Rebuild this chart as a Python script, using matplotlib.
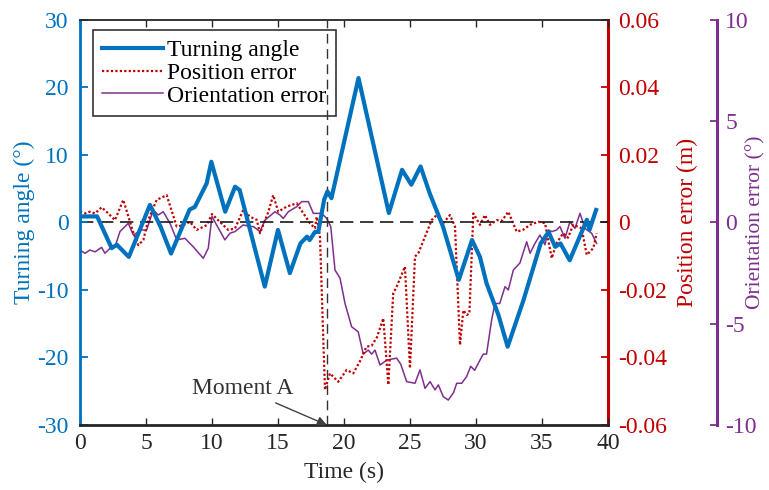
import matplotlib
matplotlib.use("Agg")
import matplotlib.pyplot as plt

# --- data ---
t_turn = [0, 1.3, 2.4, 2.8, 3.7, 5.3, 6.1, 6.9, 8.3, 8.7, 9.6, 9.95, 11.0, 11.75,
          12.1, 14.0, 15.0, 15.9, 16.7, 17.2, 17.4, 17.8, 18.05, 18.5, 18.75,
          19.05, 21.1, 23.4, 24.4, 25.1, 25.8, 26.5, 27.0, 27.5, 28.7, 29.7,
          30.3, 30.8, 31.7, 32.4, 33.6, 34.9, 35.5, 36.0, 36.4, 37.1, 38.4,
          38.6, 39.1]
turn_angle = [0.9, 0.9, -3.8, -3.3, -5.1, 2.6, -0.6, -4.6, 1.9, 2.3, 5.8, 9.0,
              1.6, 5.3, 4.8, -9.5, -1.1, -7.5, -3.1, -2.1, -2.6, -1.4, -1.4,
              3.4, 4.6, 3.6, 21.4, 1.4, 7.8, 5.6, 8.3, 4.3, 1.85, -0.6, -8.5,
              -2.6, -5.1, -9.0, -13.7, -18.4, -11.5, -3.1, -1.4, -3.6, -3.1,
              -5.6, 0.4, -1.1, 1.85]

t_pos = [0, 0.38, 0.76, 1.14, 1.64, 2.14, 2.65, 3.28, 4.04, 4.42, 4.8, 5.17,
         5.81, 6.57, 6.9, 7.33, 7.83, 8.33, 8.84, 9.6, 10.0, 10.6, 11.23,
         11.74, 12.37, 12.88, 13.39, 13.64, 14.27, 14.64, 15.02, 15.66, 16.42,
         17.42, 17.8, 17.93, 18.18, 18.56, 18.94, 19.57, 20.2, 20.7, 21.2,
         21.7, 22.1, 22.5, 22.98, 23.36, 23.73, 23.99, 24.62, 25.0, 25.38,
         25.63, 26.14, 26.64, 27.02, 27.52, 28.03, 28.41, 28.79, 29.04, 29.3,
         29.5, 29.8, 30.3, 30.68, 31.06, 31.57, 31.97, 32.45, 33.08, 33.56,
         34.09, 34.72, 35.23, 35.74, 36.1, 36.6, 36.97, 37.37, 38.0, 38.39,
         38.89, 39.14]
pos_err = [0.0032, 0.0027, 0.0032, 0.0027, 0.0045, 0.0027, 0.0007, 0.0067,
           -0.003, -0.0067, -0.0052, 0.0007, 0.0067, 0.0081, 0.004, -0.0012,
           -0.0008, 0.0002, -0.0022, -0.0008, 0.0025, 0.0002, -0.0022, -0.0018,
           0.0037, 0.0017, 0.0008, -0.0032, 0.0032, 0.0081, 0.0032, 0.0047,
           0.0057, -0.0002, -0.0017, 0.0017, -0.004, -0.0496, -0.0447, -0.0472,
           -0.0437, -0.0447, -0.0412, -0.0368, -0.0365, -0.034, -0.0284,
           -0.0481, -0.021, -0.019, -0.0131, -0.0432, -0.0101, -0.0091,
           -0.0042, 0.0007, 0.0022, -0.0002, 0.0022, -0.0012, -0.0363, -0.026,
           -0.0274, -0.027, 0.0027, -0.0007, 0.0022, -0.0007, 0.0007, 0.0005,
           0.0032, -0.0027, -0.0022, -0.0007, 0.0002, -0.0002, -0.0106,
           -0.0062, -0.0032, -0.0045, -0.0007, -0.0017, -0.0096, -0.0076,
           -0.0032]

t_ori = [0, 0.38, 0.76, 1.14, 1.64, 1.89, 2.27, 2.65, 3.03, 3.66, 4.04, 4.67,
         5.05, 5.55, 5.93, 6.31, 6.82, 7.33, 7.95, 8.58, 9.34, 9.72, 10.0,
         10.35, 10.98, 11.36, 11.74, 12.37, 12.9, 13.13, 13.64, 14.02, 14.77,
         15.15, 15.4, 15.78, 16.42, 16.8, 17.3, 17.68, 18.31, 18.69, 19.0,
         19.32, 19.7, 20.08, 20.58, 21.08, 21.46, 21.84, 22.1, 22.35, 22.73,
         23.23, 23.99, 24.3, 24.75, 25.38, 25.76, 26.14, 26.52, 26.9, 27.15,
         27.52, 27.9, 28.3, 28.54, 28.92, 29.3, 29.6, 29.9, 30.3, 30.55, 30.8,
         31.19, 31.44, 31.8, 32.2, 32.45, 32.83, 33.33, 33.84, 34.1, 34.47,
         34.85, 35.23, 35.48, 35.76, 36.11, 36.36, 36.74, 37.12, 37.5, 37.88,
         38.26, 38.76, 39.14]
ori_err = [-1.36, -1.52, -1.36, -1.45, -1.23, -1.52, -1.28, -1.2, -0.45,
           -0.04, -0.62, -0.37, -0.37, 0.62, 0.37, 0.53, -0.04, -0.86, -0.78,
           -1.2, -1.77, -1.27, 0.3, -0.12, -0.86, -0.53, -0.45, -0.12, -0.2,
           -0.2, -0.45, 0.12, 0.53, 0.37, 0.2, 0.53, 0.78, 1.03, 1.03, 0.45,
           0.45, 0.2, -0.2, -2.35, -2.75, -4.0, -5.15, -5.4, -6.5, -6.3, -6.5,
           -6.3, -7.04, -6.8, -6.7, -7.0, -7.86, -7.94, -7.28, -8.19, -7.86,
           -8.27, -8.02, -8.6, -8.77, -8.4, -7.94, -7.94, -7.6, -7.1, -7.3,
           -6.8, -6.5, -6.5, -4.8, -4.0, -4.0, -3.17, -3.33, -2.35, -2.0,
           -0.95, -1.52, -1.03, -0.62, -1.1, -0.37, -0.45, -0.37, -0.2, -0.78,
           0.04, -0.29, 0.45, -0.29, -0.53, -1.03]

moment_a = 18.7
x_ticks = [0, 5, 10, 15, 20, 25, 30, 35, 40]
angle_ticks = [-30, -20, -10, 0, 10, 20, 30]
pos_ticks = [-0.06, -0.04, -0.02, 0, 0.02, 0.04, 0.06]
pos_labels = ["-0.06", "-0.04", "-0.02", "0", "0.02", "0.04", "0.06"]
ori_ticks = [-10, -5, 0, 5, 10]

BLUE = "#0072BD"
RED = "#C00000"
PURPLE = "#7E2F8E"
GREY = "#262626"

plt.rcParams["font.family"] = ["Liberation Serif", "DejaVu Serif"]
plt.rcParams["font.size"] = 17
plt.rcParams["axes.unicode_minus"] = False

fig = plt.figure(figsize=(7.69, 4.90), dpi=100)
ax = fig.add_axes([0.104, 0.1327, 0.6866, 0.8265])
ax2 = ax.twinx()
ax3 = ax.twinx()

# stacking: turning angle on top, then position, then orientation
ax.set_zorder(3)
ax.patch.set_visible(False)
ax2.set_zorder(2)
ax3.set_zorder(1)

# --- lines ---
l3, = ax3.plot(t_ori, ori_err, color=PURPLE, lw=1.1, label="Orientation error")
l2, = ax2.plot(t_pos, pos_err, color=RED, lw=1.6, linestyle=(0, (1, 1)),
               label="Position error")
l1, = ax.plot(t_turn, turn_angle, color=BLUE, lw=3.0, label="Turning angle")

ax.axhline(0, color="#1a1a1a", lw=1.2, linestyle=(0, (8, 4)), zorder=1)
ax.axvline(moment_a, color="#333333", lw=1.0, linestyle=(0, (7, 4)), zorder=1)

ax.annotate("Moment A", xy=(moment_a, -30), xytext=(12.3, -24.6),
            ha="center", va="center", color="#333333",
            arrowprops=dict(arrowstyle="-|>", color="#404040", lw=1.0,
                            mutation_scale=14, shrinkA=2, shrinkB=0))

# --- main axis ---
ax.set_xlim(0, 40)
ax.set_ylim(-30, 30)
ax.set_xticks(x_ticks)
ax.set_yticks(angle_ticks)
ax.tick_params(axis="x", direction="in", top=True, length=5, width=1,
               colors=GREY, pad=6)
ax.tick_params(axis="y", direction="in", length=6, width=1.3, colors=BLUE, pad=8)
ax.spines["left"].set_color(BLUE)
ax.spines["left"].set_linewidth(2)
ax.spines["bottom"].set_color(GREY)
ax.spines["bottom"].set_linewidth(2)
ax.spines["top"].set_color(GREY)
ax.spines["top"].set_linewidth(1.3)
ax.spines["right"].set_visible(False)
ax.set_xlabel("Time (s)", color=GREY)
ax.xaxis.set_label_coords(0.5, -0.09)
ax.set_ylabel("Turning angle (°)", color=BLUE)
ax.yaxis.set_label_coords(-0.085, 0.5)

# --- position error axis ---
ax2.set_ylim(-0.06, 0.06)
ax2.set_yticks(pos_ticks)
ax2.set_yticklabels(pos_labels)
ax2.tick_params(axis="y", direction="in", length=5, width=1.3, colors=RED, pad=7)
for s in ["top", "left", "bottom"]:
    ax2.spines[s].set_visible(False)
ax2.spines["right"].set_color(RED)
ax2.spines["right"].set_linewidth(2.2)
ax2.set_ylabel("Position error (m)", color=RED)
ax2.yaxis.set_label_coords(1.13, 0.5)

# --- orientation error axis ---
ax3.set_ylim(-10, 10)
ax3.set_yticks(ori_ticks)
ax3.tick_params(axis="y", direction="in", length=5, width=1.3, colors=PURPLE, pad=6)
for s in ["top", "left", "bottom"]:
    ax3.spines[s].set_visible(False)
ax3.spines["right"].set_position(("axes", 1.206))
ax3.spines["right"].set_color(PURPLE)
ax3.spines["right"].set_linewidth(2.2)
ax3.set_ylabel("Orientation error (°)", color=PURPLE, fontsize=15.5)
ax3.yaxis.set_label_coords(1.262, 0.5)

leg = ax.legend(handles=[l1, l2, l3], loc="upper left",
                bbox_to_anchor=(0.0246, 0.975), borderaxespad=0,
                fancybox=False, facecolor="none", edgecolor="#333333",
                framealpha=1, handlelength=2.55, handletextpad=0.2,
                labelspacing=0.05, borderpad=0.4)
leg.get_frame().set_linewidth(1.2)

fig.savefig("out.png", dpi=100)
